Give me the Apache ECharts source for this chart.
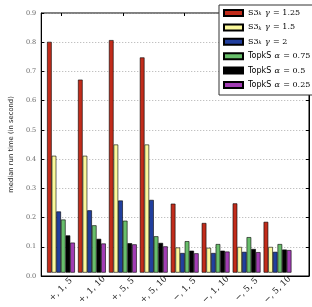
<!DOCTYPE html>
<html>
<head>
<meta charset="utf-8">
<script src="https://cdn.jsdelivr.net/npm/echarts@6/dist/echarts.min.js"></script>
<style>
html,body{margin:0;padding:0;background:#fff;}
#chart{width:312px;height:307px;}
</style>
</head>
<body>
<div id="chart"></div>
<script>
// categories and ticks
var cats = ['+, 1, 5', '+, 1, 10', '+, 5, 5', '+, 5, 10', '\u2212, 1, 5', '\u2212, 1, 10', '\u2212, 5, 5', '\u2212, 5, 10'];
var yTicks = [0.0, 0.1, 0.2, 0.3, 0.4, 0.5, 0.6, 0.7, 0.8, 0.9];

// median run time per series
var s3_125 = [0.800, 0.669, 0.806, 0.746, 0.239, 0.172, 0.240, 0.176];
var s3_15  = [0.405, 0.405, 0.444, 0.444, 0.087, 0.086, 0.089, 0.089];
var s3_2   = [0.212, 0.216, 0.250, 0.252, 0.068, 0.068, 0.072, 0.072];
var topk_075 = [0.184, 0.164, 0.180, 0.126, 0.109, 0.099, 0.123, 0.099];
var topk_05  = [0.129, 0.117, 0.102, 0.103, 0.076, 0.076, 0.082, 0.080];
var topk_025 = [0.104, 0.101, 0.098, 0.091, 0.067, 0.073, 0.071, 0.078];

var names = ['S3_125', 'S3_15', 'S3_2', 'TopkS_075', 'TopkS_05', 'TopkS_025'];
var labels = {
    'S3_125': '{s|S3}{sub|k} {m|\u03b3} {s|= 1.25}',
    'S3_15': '{s|S3}{sub|k} {m|\u03b3} {s|= 1.5}',
    'S3_2': '{s|S3}{sub|k} {m|\u03b3} {s|= 2}',
    'TopkS_075': '{t|TopkS} {m|\u03b1} {s|= 0.75}',
    'TopkS_05': '{t|TopkS} {m|\u03b1} {s|= 0.5}',
    'TopkS_025': '{t|TopkS} {m|\u03b1} {s|= 0.25}'
};
var colors = ['#c22c1b', '#fbf99c', '#213f9e', '#68be6b', '#000000', '#a23db4'];
var values = [s3_125, s3_15, s3_2, topk_075, topk_05, topk_025];

var chart = echarts.init(document.getElementById('chart'));

var series = [];
for (var i = 0; i < names.length; i++) {
    series.push({
        name: names[i],
        type: 'bar',
        xAxisIndex: 0,
        yAxisIndex: 0,
        data: values[i],
        barCategoryGap: '10%',
        barGap: '0%',
        itemStyle: {color: colors[i], borderColor: '#000', borderWidth: 0.6},
        emphasis: {disabled: true}
    });
}

var yRange = {min: 0, max: 0.9, interval: 0.1};

var option = {
    animation: false,
    grid: [
        // bars: one band per group, 30.9px wide
        {left: 45.5, right: 19, top: 13, bottom: 31},
        // frame
        {left: 31, right: 3, top: 13, bottom: 31, show: true, borderColor: '#000', borderWidth: 1}
    ],
    legend: {
        orient: 'vertical',
        left: 219, top: 5,
        data: names,
        icon: 'rect',
        itemWidth: 19, itemHeight: 6,
        itemGap: 2.4,
        itemTextGap: 7,
        padding: [2, 12, 4, 4],
        borderColor: '#333', borderWidth: 1,
        backgroundColor: '#fff',
        formatter: function (n) { return labels[n]; },
        textStyle: {
            color: '#000',
            lineHeight: 10.5,
            rich: {
                s: {fontFamily: 'DejaVu Serif', fontSize: 8, lineHeight: 10.5, color: '#000'},
                sub: {fontFamily: 'DejaVu Serif', fontStyle: 'italic', fontSize: 5, lineHeight: 8, color: '#000', padding: [2, 0, 0, 0]},
                m: {fontFamily: 'DejaVu Serif', fontStyle: 'italic', fontSize: 8, lineHeight: 10.5, color: '#000'},
                t: {fontFamily: 'DejaVu Sans', fontSize: 8, lineHeight: 10.5, color: '#000'}
            }
        }
    },
    xAxis: [{
        gridIndex: 0,
        type: 'category',
        data: cats,
        axisLine: {show: false},
        axisTick: {show: false},
        axisLabel: {
            interval: 0, rotate: 45, margin: 17,
            align: 'center', verticalAlign: 'middle',
            fontFamily: 'DejaVu Serif', fontSize: 8.5, color: '#222'
        }
    }, {
        gridIndex: 0,
        type: 'category',
        data: cats,
        position: 'top',
        axisLine: {show: false},
        axisTick: {show: true, inside: true, length: 3, alignWithLabel: true, lineStyle: {color: '#000'}},
        axisLabel: {show: false}
    }, {
        gridIndex: 1,
        type: 'value',
        min: 0, max: 1,
        axisLine: {show: true, lineStyle: {color: '#000'}},
        axisTick: {show: false},
        axisLabel: {show: false},
        splitLine: {show: false}
    }],
    yAxis: [{
        gridIndex: 0,
        type: 'value',
        min: yRange.min, max: yRange.max, interval: yRange.interval,
        axisLine: {show: false},
        axisTick: {show: false},
        axisLabel: {show: false},
        splitLine: {show: false}
    }, {
        gridIndex: 1,
        type: 'value',
        min: yRange.min, max: yRange.max, interval: yRange.interval,
        name: 'median run time (in second)',
        nameLocation: 'middle',
        nameGap: 19,
        nameTextStyle: {fontFamily: 'DejaVu Sans', fontSize: 6.8, color: '#222'},
        axisLine: {show: true, lineStyle: {color: '#000'}},
        axisTick: {show: true, inside: true, length: 3, lineStyle: {color: '#000'}},
        axisLabel: {
            margin: 5, fontFamily: 'DejaVu Serif', fontSize: 6.5, color: '#666',
            formatter: function (v) { return v.toFixed(1); }
        },
        splitLine: {show: true, lineStyle: {color: '#999', type: [1, 2], width: 0.8}}
    }, {
        gridIndex: 1,
        type: 'value',
        min: yRange.min, max: yRange.max, interval: yRange.interval,
        position: 'right',
        axisLine: {show: true, lineStyle: {color: '#000'}},
        axisTick: {show: true, inside: true, length: 3, lineStyle: {color: '#000'}},
        axisLabel: {show: false},
        splitLine: {show: false}
    }],
    series: series
};
chart.setOption(option);
</script>
</body>
</html>
